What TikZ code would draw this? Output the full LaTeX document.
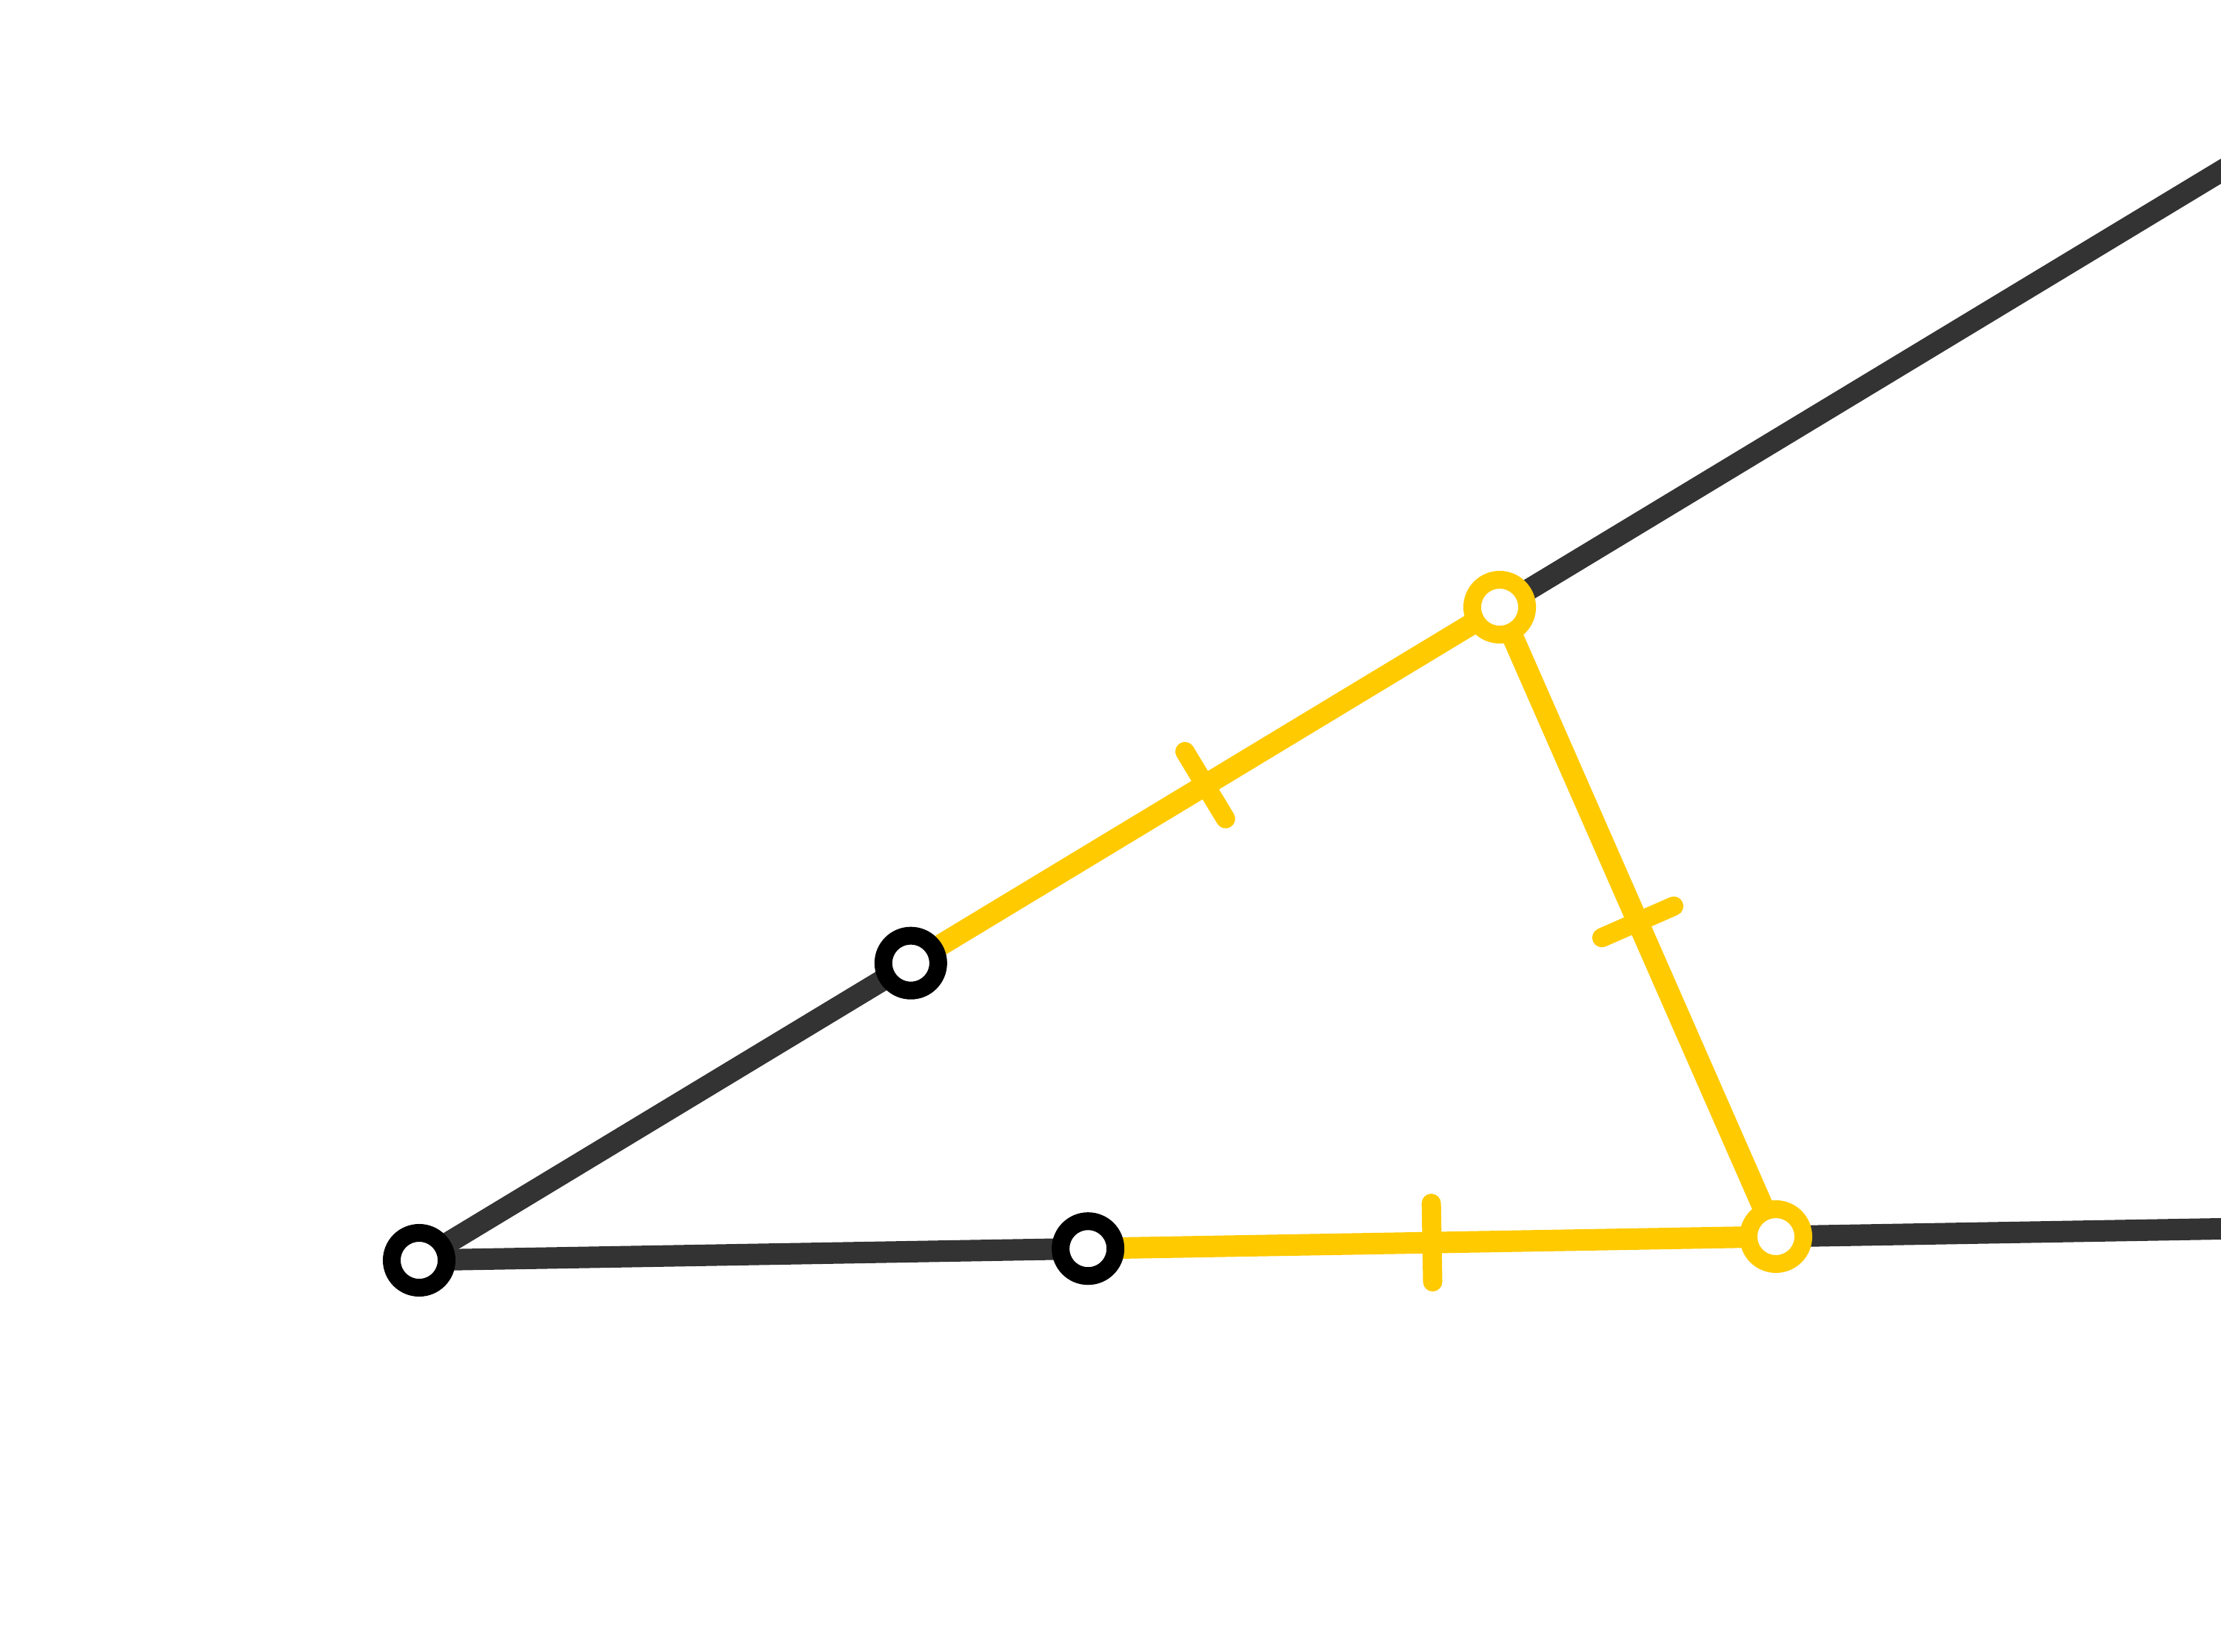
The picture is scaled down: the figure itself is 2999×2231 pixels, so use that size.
\documentclass[tikz,border=0pt]{standalone}
\usetikzlibrary{calc}
\definecolor{darkln}{HTML}{333333}
\definecolor{yel}{HTML}{FFCA00}
\tikzset{
  darkline/.style={draw=darkln, line width=0.29cm},
  yelline/.style={draw=yel, line width=0.29cm},
  tickmark/.style={draw=yel, line width=0.26cm, line cap=round},
  ptbase/.style={circle, fill=white, line width=0.24cm, minimum size=0.74cm, inner sep=0pt},
  blackpt/.style={ptbase, draw=black},
  yelpt/.style={ptbase, draw=yel}
}
\begin{document}
\begin{tikzpicture}[x=0.01cm, y=-0.01cm]
\useasboundingbox (0,0) rectangle (2999,2231);
\clip (0,0) rectangle (2999,2231);
\coordinate (a) at (566,1702);
\coordinate (c) at (2025,820);
\coordinate (d) at (2398,1670);
\coordinate (b) at ($(a)!0.455!(c)$);
\coordinate (e) at ($(a)!0.493!(d)$);
\coordinate (ue) at ($(a)!1.75!(c)$);
\coordinate (le) at ($(a)!1.4!(d)$);
% dark lines
\draw[darkline] (a) -- (b);
\draw[darkline] (c) -- (ue);
\draw[darkline] (a) -- (e);
\draw[darkline] (d) -- (le);
% yellow lines
\draw[yelline] (b) -- (c);
\draw[yelline] (c) -- (d);
\draw[yelline] (e) -- (d);
% tick marks
\coordinate (m1) at ($(b)!0.5!(c)$);
\coordinate (m2) at ($(c)!0.5!(d)$);
\coordinate (m3) at ($(e)!0.5!(d)$);
\draw[tickmark] ($(m1)!0.53cm!90:(c)$) -- ($(m1)!0.53cm!-90:(c)$);
\draw[tickmark] ($(m2)!0.53cm!90:(d)$) -- ($(m2)!0.53cm!-90:(d)$);
\draw[tickmark] ($(m3)!0.53cm!90:(d)$) -- ($(m3)!0.53cm!-90:(d)$);
% points
\node[blackpt] (A) at (a) {};
\node[blackpt] (B) at (b) {};
\node[blackpt] (E) at (e) {};
\node[yelpt] (C) at (c) {};
\node[yelpt] (D) at (d) {};
\end{tikzpicture}
\end{document}
